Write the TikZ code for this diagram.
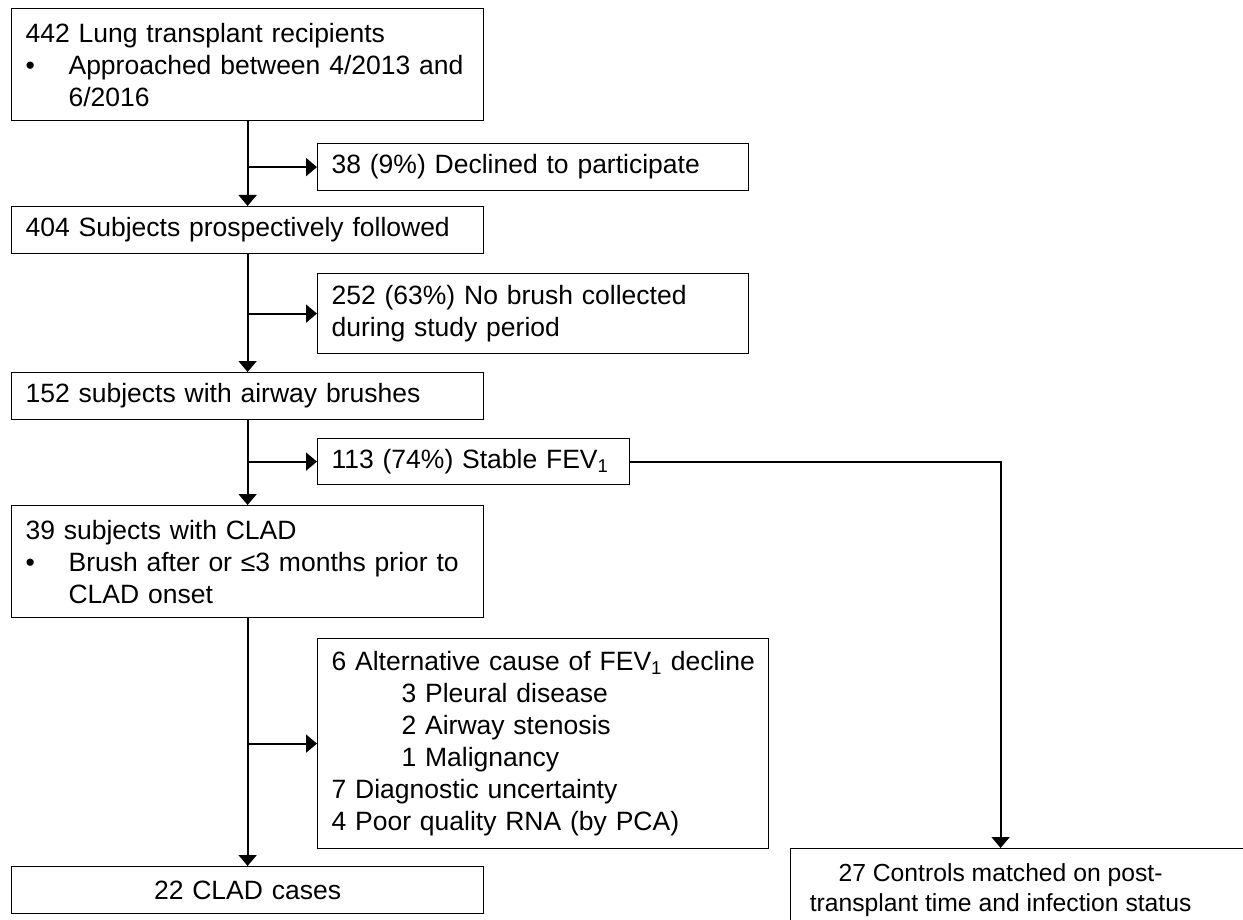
\documentclass[tikz,border=0pt]{standalone}
\usepackage{fontspec}
\setmainfont{Liberation Sans}
\usetikzlibrary{positioning,arrows.meta}

\tikzset{
  box/.style={draw, rectangle, line width=1.2pt, anchor=north west, align=left, inner xsep=14pt, inner ysep=0pt},
  flow/.style={line width=2pt, -{Triangle[width=18pt,length=11pt]}},
}

\begin{document}
\begin{tikzpicture}[x=1pt, y=-1pt, font=\fontsize{26.5}{32}\selectfont]
            \path[use as bounding box, fill=white] (0,0) rectangle (1243,920);
            \clip (0,0) rectangle (1243,920);

            \node[box, text width=444pt, minimum height=112pt] (recipients) at (11,8) {442 Lung transplant recipients\\\makebox[43pt][l]{•}Approached between 4/2013 and\\\hspace*{43pt}6/2016};
            \node[box, text width=403pt, minimum height=47pt] (declined) at (317,143) {38 (9\%) Declined to participate};
            \node[box, text width=444pt, minimum height=47pt] (followed) at (11,206) {404 Subjects prospectively followed};
            \node[box, text width=403pt, minimum height=80pt] (nobrush) at (317,273) {252 (63\%) No brush collected\\during study period};
            \node[box, text width=444pt, minimum height=47pt] (brushes) at (11,372) {152 subjects with airway brushes};
            \node[box, text width=284pt, minimum height=46pt] (stable) at (317,438) {113 (74\%) Stable FEV\textsubscript{1}};
            \node[box, text width=444pt, minimum height=112pt] (clad) at (11,505) {39 subjects with CLAD\\\makebox[43pt][l]{•}Brush after or ≤3 months prior to\\\hspace*{43pt}CLAD onset};
            \node[box, text width=423pt, minimum height=210pt] (excluded) at (317,638) {\mbox{6 Alternative cause of FEV\textsubscript{1} decline}\\\hspace*{70pt}3 Pleural disease\\\hspace*{70pt}2 Airway stenosis\\\hspace*{70pt}1 Malignancy\\7 Diagnostic uncertainty\\4 Poor quality RNA (by PCA)};
            \node[box, text width=444pt, minimum height=47pt, align=center] (cases) at (11,866) {22 CLAD cases};
            \node[box, minimum width=460pt, minimum height=84pt, align=center, font=\fontsize{24.7}{30}\selectfont] (controls) at (790,848) {27 Controls matched on post-\hspace*{40pt}\\transplant time and infection status\hspace*{40pt}};

            \draw[flow] (recipients) -- (followed);
            \draw[flow] (recipients.south |- declined.west) -- (declined.west);
            \draw[flow] (followed) -- (brushes);
            \draw[flow] (followed.south |- nobrush.west) -- (nobrush.west);
            \draw[flow] (brushes) -- (clad);
            \draw[flow] (brushes.south |- stable.west) -- (stable.west);
            \draw[flow] (clad) -- (cases);
            \draw[flow] (clad.south |- excluded.west) -- (excluded.west);
            \coordinate (ctrlin) at ([xshift=-20pt]controls.north);
            \draw[flow] (stable.east) -| (ctrlin);
        \end{tikzpicture}
\end{document}
